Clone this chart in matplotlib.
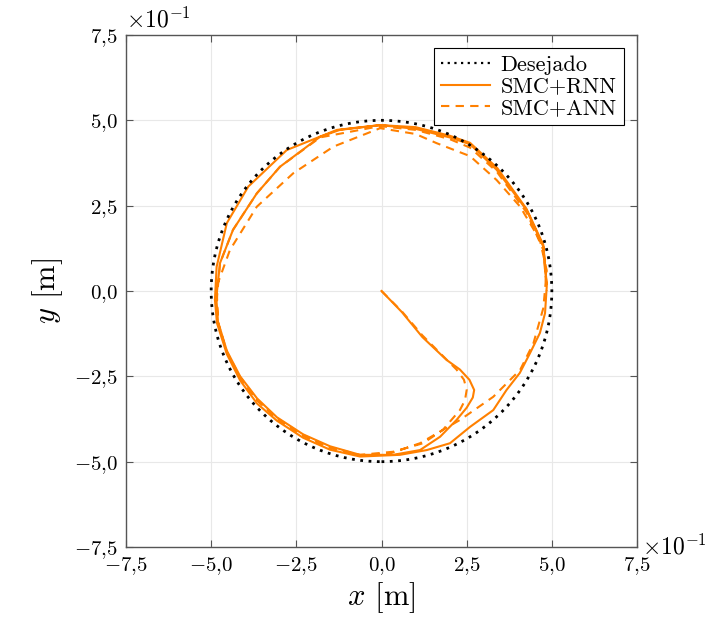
import matplotlib
matplotlib.use("Agg")
import matplotlib.pyplot as plt
from matplotlib.lines import Line2D
from matplotlib.patches import Circle
from matplotlib.ticker import FuncFormatter

# all values in units of 1e-1 m
radius_ref = 5.0

rnn_x = [0.0, 0.6, 1.2, 1.91, 2.3, 2.58, 2.72, 2.68, 2.5, 2.2, 1.72, 1.13, 0.34, -0.63,
         -1.51, -2.3, -3.07, -3.65, -4.15, -4.54, -4.8, -4.85,
         -4.74, -4.36, -3.66, -2.98, -1.8, -1.22, -0.04,
         1.0, 2.0, 2.6, 3.38, 4.26, 4.75, 4.85,
         4.8, 4.65, 4.36, 4.06, 3.67, 3.28, 2.6, 2.01, 1.33, 0.54, -0.63,
         -1.51, -2.3, -3.07, -3.65, -4.15, -4.54, -4.83, -4.89,
         -4.84, -4.54, -3.91, -2.78, -1.31, -0.04,
         1.0, 2.0, 2.6, 3.4, 4.26, 4.75, 4.85]
rnn_y = [0.0, -0.62, -1.35, -2.02, -2.3, -2.6, -2.9, -3.12, -3.42, -3.78, -4.27, -4.66, -4.8, -4.8,
         -4.55, -4.2, -3.7, -3.15, -2.5, -1.75, -0.9, -0.2,
         0.82, 1.79, 2.86, 3.64, 4.52, 4.72, 4.86,
         4.75, 4.5, 4.3, 3.55, 2.37, 1.3, 0.13,
         -0.65, -1.23, -1.82, -2.4, -2.9, -3.49, -3.98, -4.46, -4.66, -4.8, -4.85,
         -4.65, -4.3, -3.8, -3.3, -2.62, -1.85, -0.94, -0.26,
         0.71, 1.99, 3.06, 4.13, 4.72, 4.86,
         4.8, 4.55, 4.34, 3.6, 2.4, 1.35, 0.2]

ann_x = [0.0, 0.6, 1.2, 1.85, 2.2, 2.42, 2.5, 2.45, 2.3, 1.8, 1.22, 0.34, -0.63,
         -1.51, -2.3, -3.07, -3.65, -4.15, -4.54, -4.8, -4.84,
         -4.45, -3.66, -2.59, -1.41, -0.04,
         1.0, 1.62, 2.6, 3.38, 4.07, 4.65, 4.85,
         4.75, 4.46, 4.07, 3.28, 2.3, 1.13, 0.25, -0.63,
         -1.51, -2.3, -3.07, -3.65, -4.15, -4.54, -4.8, -4.84,
         -4.74, -4.36, -3.66, -2.98, -1.8, -0.04,
         1.0, 2.0, 2.6, 3.38, 4.26, 4.75, 4.85]
ann_y = [0.0, -0.6, -1.3, -1.95, -2.3, -2.6, -2.9, -3.2, -3.49, -4.07, -4.46, -4.71, -4.8,
         -4.58, -4.22, -3.72, -3.18, -2.52, -1.78, -0.92, 0.13,
         1.2, 2.47, 3.45, 4.23, 4.77,
         4.6, 4.33, 3.95, 3.25, 2.47, 1.49, 0.6,
         -0.5, -1.53, -2.31, -3.1, -3.78, -4.46, -4.76, -4.82,
         -4.6, -4.25, -3.75, -3.2, -2.56, -1.8, -0.92, -0.3,
         0.82, 1.79, 2.86, 3.64, 4.5, 4.83,
         4.72, 4.45, 4.2, 3.5, 2.3, 1.2, 0.0]

ticks = [-7.5, -5.0, -2.5, 0.0, 2.5, 5.0, 7.5]

orange = "#ff8000"

plt.rcParams["font.family"] = "serif"
plt.rcParams["font.serif"] = ["cmr10"]
plt.rcParams["mathtext.fontset"] = "cm"
plt.rcParams["axes.unicode_minus"] = False
plt.rcParams["axes.formatter.use_mathtext"] = True

fig = plt.figure(figsize=(7.18, 6.26), dpi=100)
ax = fig.add_axes([0.1755, 0.1262, 0.7117, 0.8179])

circ = Circle((0, 0), radius_ref, fill=False, edgecolor="black",
              linestyle=(0, (1, 2)), linewidth=2.0, zorder=3)
ax.add_patch(circ)
ax.plot(rnn_x, rnn_y, color=orange, linewidth=1.5, zorder=2)
ax.plot(ann_x, ann_y, color=orange, linewidth=1.5, linestyle=(0, (4, 3)), zorder=2)

ax.set_xlim(-7.5, 7.5)
ax.set_ylim(-7.5, 7.5)
ax.set_xticks(ticks)
ax.set_yticks(ticks)


def fmt(v, pos):
    return "$" + ("%.1f" % v).replace(".", "{,}") + "$"


ax.xaxis.set_major_formatter(FuncFormatter(fmt))
ax.yaxis.set_major_formatter(FuncFormatter(fmt))
ax.tick_params(direction="in", top=True, right=True, labelsize=15,
               length=5, color="#555555", pad=6)
for s in ax.spines.values():
    s.set_color("#555555")
    s.set_linewidth(1.0)
ax.grid(True, color="#e8e8e8", linewidth=0.8)
ax.set_axisbelow(True)

ax.set_xlabel(r"$x$ [m]", fontsize=22, labelpad=2)
ax.set_ylabel(r"$y$ [m]", fontsize=22, labelpad=6)

ax.text(0.0, 1.005, r"$\times10^{-1}$", transform=ax.transAxes,
        fontsize=17, ha="left", va="bottom")
ax.text(1.01, 0.0, r"$\times10^{-1}$", transform=ax.transAxes,
        fontsize=17, ha="left", va="center")

handles = [Line2D([], [], color="black", linestyle=(0, (1, 2)), linewidth=1.6),
           Line2D([], [], color=orange, linewidth=1.5),
           Line2D([], [], color=orange, linewidth=1.5, linestyle=(0, (4, 3)))]
leg = ax.legend(handles, ["Desejado", "SMC+RNN", "SMC+ANN"], loc="upper right",
                fontsize=16, fancybox=False, edgecolor="black", framealpha=1,
                borderaxespad=0.6, handlelength=2.2, labelspacing=0.1,
                borderpad=0.3, handletextpad=0.5)
leg.get_frame().set_linewidth(0.8)

fig.savefig("out.png", dpi=100)
